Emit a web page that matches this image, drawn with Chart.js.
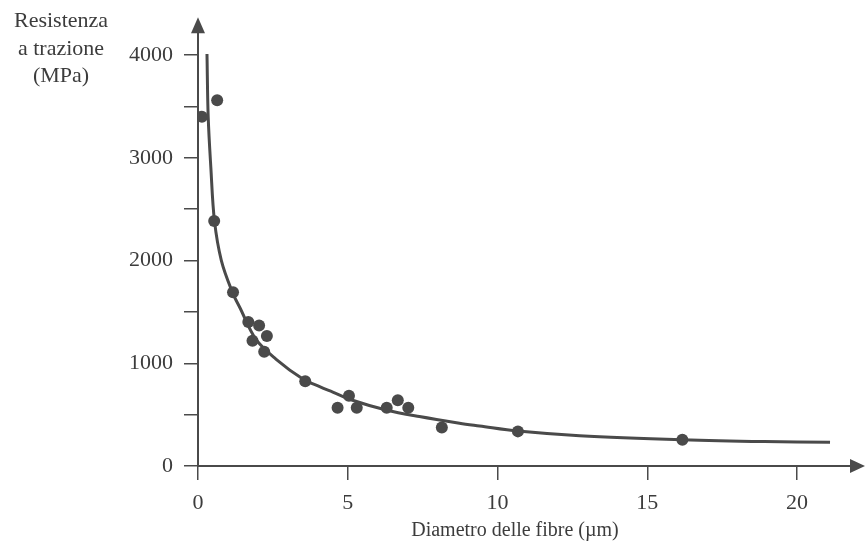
<!DOCTYPE html>
<html lang="it">
<head>
<meta charset="utf-8">
<title>Resistenza a trazione vs diametro delle fibre</title>
<script src="https://cdn.jsdelivr.net/npm/chart.js@4.4.1/dist/chart.umd.min.js"></script>
<style>
  body { margin: 0; background: #ffffff; }
  #grafico { display: block; }
</style>
</head>
<body>
<canvas id="grafico" width="865" height="558"></canvas>
<script>
// punti misurati (diametro in µm, resistenza in MPa)
const diametri = [0.13, 0.64, 0.54, 1.17, 1.68, 2.04, 1.82, 2.30, 2.21, 3.58, 4.66, 5.04, 5.30, 6.30, 6.67, 7.02, 8.14, 10.68, 16.17];
const resistenze = [3400, 3560, 2385, 1692, 1401, 1368, 1218, 1266, 1112, 824, 567, 683, 567, 567, 641, 567, 375, 337, 256];

// curva interpolante
const curvaX = [0.30, 0.34, 0.43, 0.55, 0.78, 1.15, 1.40, 1.93, 2.6, 3.49, 4.08, 4.5, 5.16, 6.28, 7.39, 8.73, 9.4, 10.68, 12.74, 16.17, 18.9, 21.1];
const curvaY = [4010, 3400, 2900, 2385, 2000, 1690, 1540, 1234, 1041, 849, 770, 720, 640, 545, 481, 417, 390, 340, 295, 256, 238, 232];

const tickX = [0, 5, 10, 15, 20];
const tickY = [0, 500, 1000, 1500, 2000, 2500, 3000, 3500, 4000];
const etichetteY = ["0", "", "1000", "", "2000", "", "3000", "", "4000"];

const titoloY = ["Resistenza", "a trazione", "(MPa)"];
const titoloX = "Diametro delle fibre (\u00b5m)";

const grigio = "#4a4a4a";
const fontSerif = "'Liberation Serif', 'Times New Roman', serif";

let puntiCurva = [];
for (let i = 0; i < curvaX.length; i++) {
  puntiCurva.push({ x: curvaX[i], y: curvaY[i] });
}
let puntiMisure = [];
for (let i = 0; i < diametri.length; i++) {
  puntiMisure.push({ x: diametri[i], y: resistenze[i] });
}

// frecce sugli assi e titoli
const assiPlugin = {
  id: "assi",
  afterDraw(chart) {
    const ctx = chart.ctx;
    const area = chart.chartArea;
    ctx.save();
    ctx.fillStyle = grigio;

    ctx.beginPath();
    ctx.moveTo(area.left, area.top - 7);
    ctx.lineTo(area.left - 7, area.top + 9);
    ctx.lineTo(area.left + 7, area.top + 9);
    ctx.closePath();
    ctx.fill();

    ctx.beginPath();
    ctx.moveTo(area.right + 8, area.bottom);
    ctx.lineTo(area.right - 7, area.bottom - 7);
    ctx.lineTo(area.right - 7, area.bottom + 7);
    ctx.closePath();
    ctx.fill();

    ctx.fillStyle = "#3c3c3c";
    ctx.font = "22px " + fontSerif;
    ctx.textAlign = "center";
    ctx.textBaseline = "alphabetic";
    ctx.fillText(titoloY[0], 61, 27);
    ctx.fillText(titoloY[1], 61, 55);
    ctx.fillText(titoloY[2], 61, 82);

    ctx.font = "20px " + fontSerif;
    ctx.fillText(titoloX, 515, 536);
    ctx.restore();
  }
};

const config = {
  type: "scatter",
  data: {
    datasets: [
      {
        label: "curva",
        data: puntiCurva,
        showLine: true,
        borderColor: grigio,
        borderWidth: 3,
        pointRadius: 0,
        tension: 0.35,
        order: 2,
      },
      {
        label: "misure",
        data: puntiMisure,
        backgroundColor: grigio,
        borderColor: grigio,
        borderWidth: 0,
        pointRadius: 6,
        order: 1,
      },
    ],
  },
  options: {
    responsive: false,
    animation: false,
    layout: { padding: { top: 18, right: 8, left: 0, bottom: 0 } },
    plugins: {
      legend: { display: false },
      tooltip: { enabled: false },
    },
    scales: {
      x: {
        type: "linear",
        min: 0,
        max: 22,
        afterFit: (scala) => { scala.height = 92; },
        afterBuildTicks: (scala) => {
          scala.ticks = tickX.map((v) => ({ value: v }));
        },
        grid: { drawOnChartArea: false, tickLength: 14, color: grigio, lineWidth: 1.5 },
        border: { display: true, color: grigio, width: 2 },
        ticks: {
          padding: 10,
          color: "#3c3c3c",
          font: { family: fontSerif, size: 22 },
          callback: (v) => String(v),
        },
      },
      y: {
        type: "linear",
        min: 0,
        max: 4300,
        afterFit: (scala) => { scala.width = 198; },
        afterBuildTicks: (scala) => {
          scala.ticks = tickY.map((v) => ({ value: v }));
        },
        grid: { drawOnChartArea: false, tickLength: 14, color: grigio, lineWidth: 1.5 },
        border: { display: true, color: grigio, width: 2 },
        ticks: {
          padding: 11,
          color: "#3c3c3c",
          font: { family: fontSerif, size: 22 },
          callback: (v) => {
            let i = tickY.indexOf(v);
            return i >= 0 ? etichetteY[i] : "";
          },
        },
      },
    },
  },
  plugins: [assiPlugin],
};

let grafico = new Chart(document.getElementById("grafico"), config);
</script>
</body>
</html>
